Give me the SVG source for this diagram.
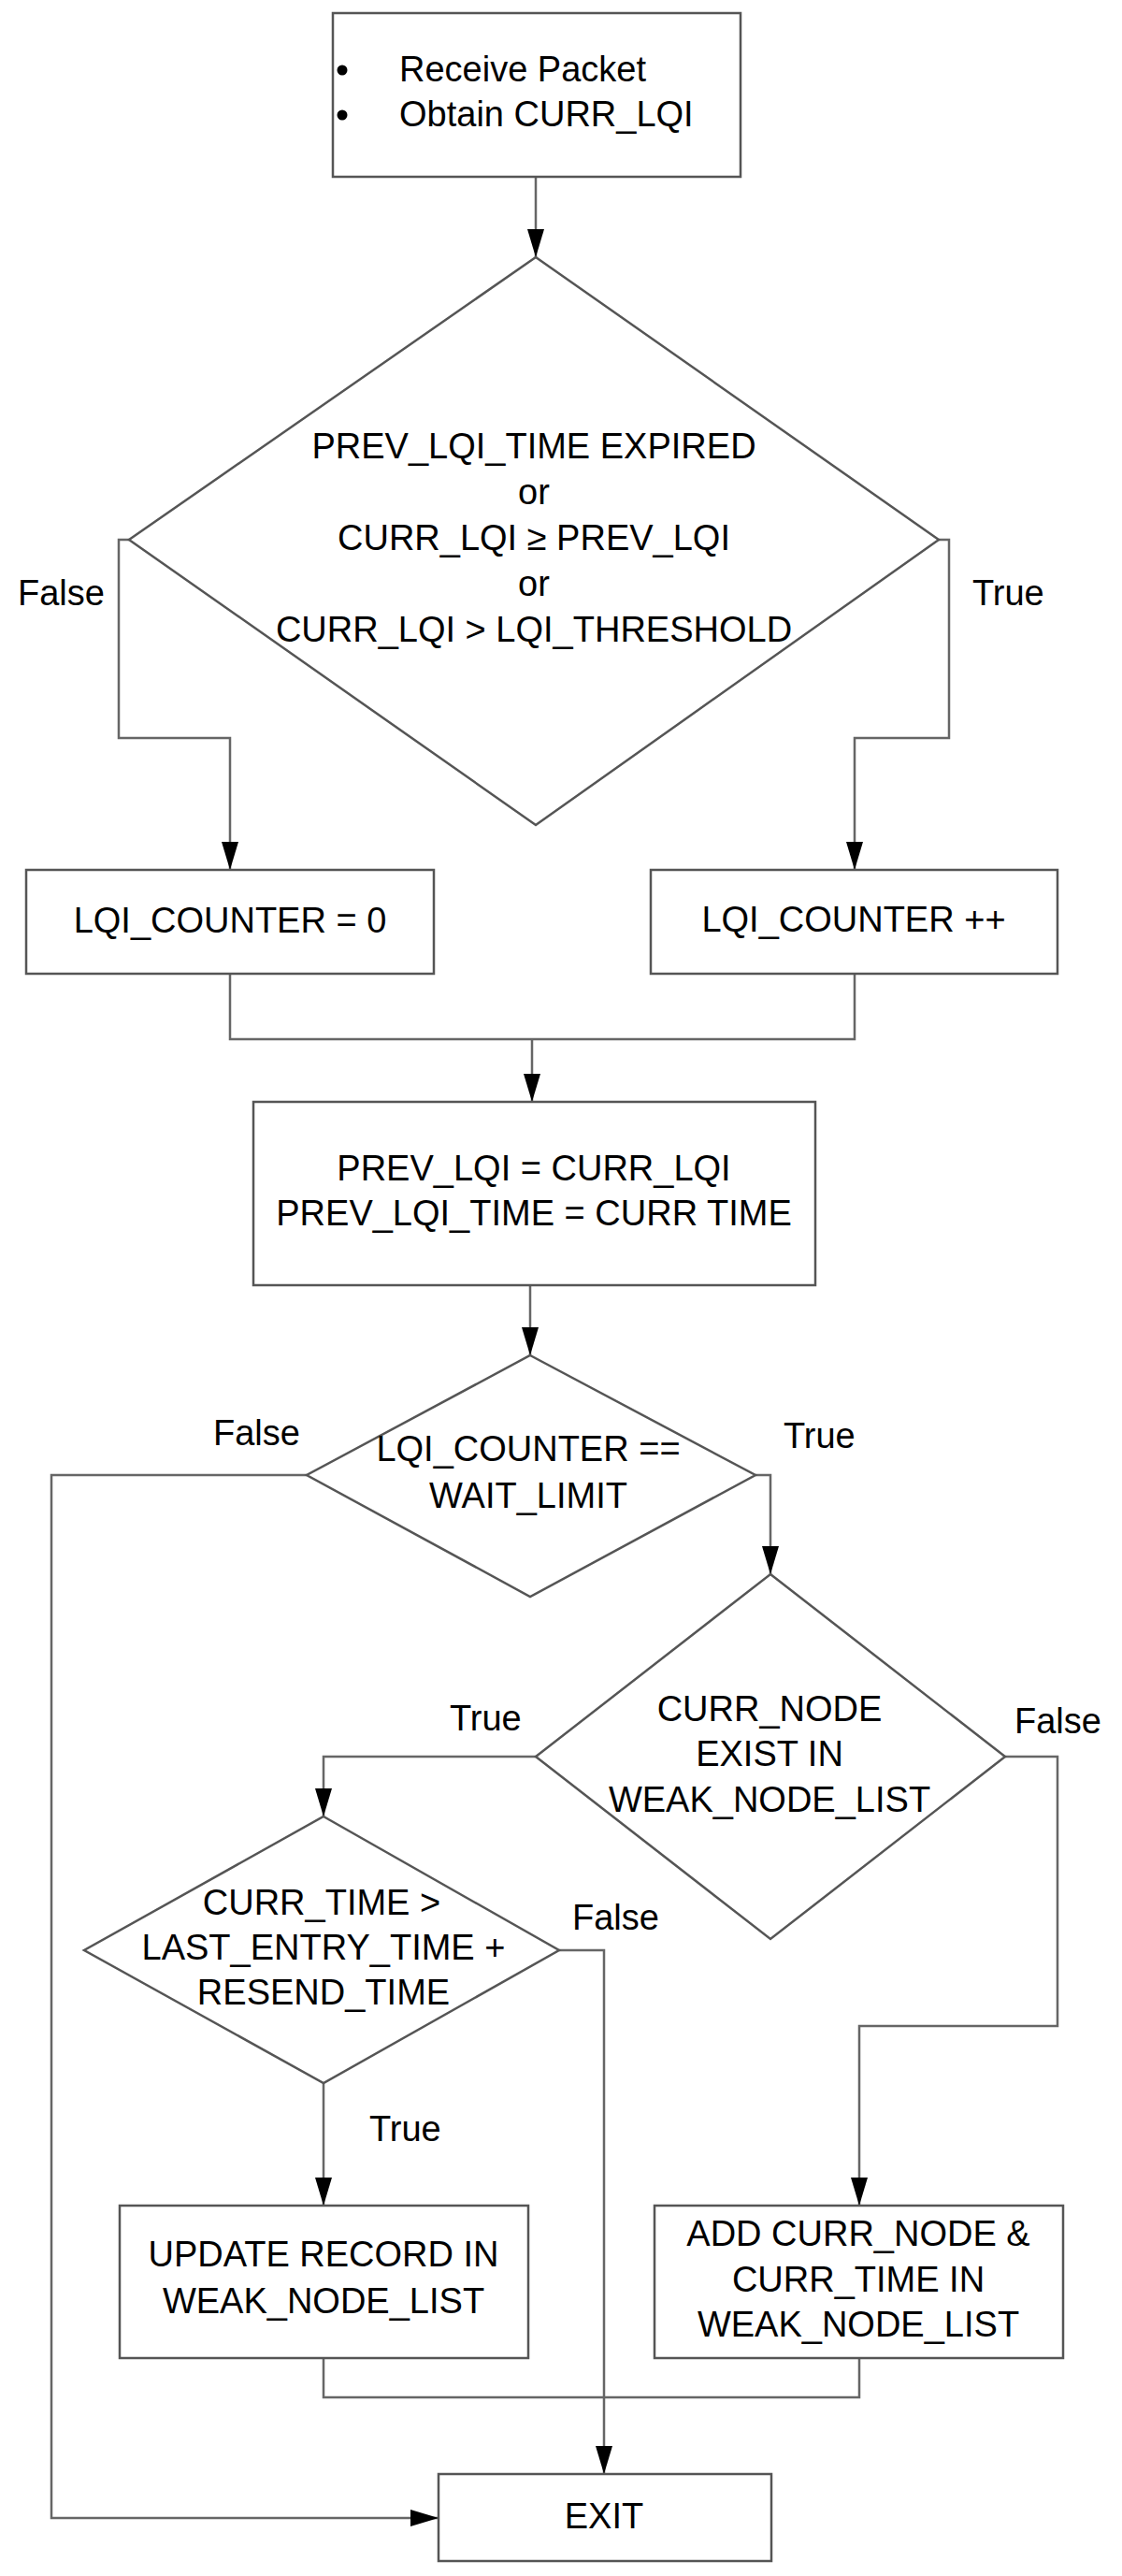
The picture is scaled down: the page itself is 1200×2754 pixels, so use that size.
<svg xmlns="http://www.w3.org/2000/svg" width="1200" height="2754" viewBox="0 0 1200 2754">
<style>
text{font-family:"Liberation Sans",Arial,sans-serif;font-size:38px;fill:#000}
.c{text-anchor:middle}
.box{fill:#fff;stroke:#555;stroke-width:2.5}
.dia{fill:#fff;stroke:#555;stroke-width:2.5}
.ln{fill:none;stroke:#666;stroke-width:2.5}
</style>
<defs>
<marker id="ah" markerUnits="userSpaceOnUse" markerWidth="30" markerHeight="18" refX="30" refY="9" orient="auto">
<path d="M0,0 L30,9 L0,18 z" fill="#000"/>
</marker>
</defs>
<rect width="1200" height="2754" fill="#fff"/>
<g id="connectors">
<polyline class="ln" points="573,189 573,275" marker-end="url(#ah)"/>
<polyline class="ln" points="138,577 127,577 127,789 246,789 246,930" marker-end="url(#ah)"/>
<polyline class="ln" points="1004,577 1015,577 1015,789 914,789 914,930" marker-end="url(#ah)"/>
<polyline class="ln" points="246,1041 246,1111 914,1111 914,1041"/>
<polyline class="ln" points="569,1111 569,1178" marker-end="url(#ah)"/>
<polyline class="ln" points="567,1374 567,1449" marker-end="url(#ah)"/>
<polyline class="ln" points="328,1577 55,1577 55,2692 469,2692" marker-end="url(#ah)"/>
<polyline class="ln" points="808,1577 824,1577 824,1683" marker-end="url(#ah)"/>
<polyline class="ln" points="573,1878 346,1878 346,1942" marker-end="url(#ah)"/>
<polyline class="ln" points="1075,1878 1131,1878 1131,2166 919,2166 919,2358" marker-end="url(#ah)"/>
<polyline class="ln" points="598,2085 646,2085 646,2645" marker-end="url(#ah)"/>
<polyline class="ln" points="346,2227 346,2358" marker-end="url(#ah)"/>
<polyline class="ln" points="346,2521 346,2563 919,2563 919,2521"/>
<text x="19" y="647">False</text>
<text x="1040" y="647">True</text>
<text x="228" y="1545">False</text>
<text x="838" y="1548">True</text>
<text x="481" y="1850">True</text>
<text x="1085" y="1853">False</text>
<text x="612" y="2063">False</text>
<text x="395" y="2289">True</text>
</g>
<g id="start">
<rect class="box" x="356" y="14" width="436" height="175"/>
<circle cx="366" cy="75" r="5.5" fill="#000"/>
<circle cx="366" cy="123" r="5.5" fill="#000"/>
<text x="427" y="87">Receive Packet</text>
<text x="427" y="135">Obtain CURR_LQI</text>
</g>
<g id="cond1">
<polygon class="dia" points="573,275 1004,577 573,882 138,577"/>
<text class="c" x="571" y="490">PREV_LQI_TIME EXPIRED</text>
<text class="c" x="571" y="539">or</text>
<text class="c" x="571" y="588">CURR_LQI ≥ PREV_LQI</text>
<text class="c" x="571" y="637">or</text>
<text class="c" x="571" y="686">CURR_LQI &gt; LQI_THRESHOLD</text>
</g>
<g id="reset">
<rect class="box" x="28" y="930" width="436" height="111"/>
<text class="c" x="246" y="997">LQI_COUNTER = 0</text>
</g>
<g id="incr">
<rect class="box" x="696" y="930" width="435" height="111"/>
<text class="c" x="913" y="996">LQI_COUNTER ++</text>
</g>
<g id="update">
<rect class="box" x="271" y="1178" width="601" height="196"/>
<text class="c" x="571" y="1262">PREV_LQI = CURR_LQI</text>
<text class="c" x="571" y="1310">PREV_LQI_TIME = CURR TIME</text>
</g>
<g id="cond2">
<polygon class="dia" points="567,1449 808,1577 567,1707 328,1577"/>
<text class="c" x="565" y="1562">LQI_COUNTER ==</text>
<text class="c" x="565" y="1612">WAIT_LIMIT</text>
</g>
<g id="cond3">
<polygon class="dia" points="824,1683 1075,1878 824,2073 573,1878"/>
<text class="c" x="823" y="1840">CURR_NODE</text>
<text class="c" x="823" y="1888">EXIST IN</text>
<text class="c" x="823" y="1937">WEAK_NODE_LIST</text>
</g>
<g id="cond4">
<polygon class="dia" points="346,1942 598,2085 346,2227 90,2085"/>
<text class="c" x="344" y="2047">CURR_TIME &gt;</text>
<text class="c" x="346" y="2095">LAST_ENTRY_TIME +</text>
<text class="c" x="346" y="2143">RESEND_TIME</text>
</g>
<g id="updrec">
<rect class="box" x="128" y="2358" width="437" height="163"/>
<text class="c" x="346" y="2423">UPDATE RECORD IN</text>
<text class="c" x="346" y="2473">WEAK_NODE_LIST</text>
</g>
<g id="addnode">
<rect class="box" x="700" y="2358" width="437" height="163"/>
<text class="c" x="918" y="2401">ADD CURR_NODE &amp;</text>
<text class="c" x="918" y="2450">CURR_TIME IN</text>
<text class="c" x="918" y="2498">WEAK_NODE_LIST</text>
</g>
<g id="exit">
<rect class="box" x="469" y="2645" width="356" height="93"/>
<text class="c" x="646" y="2703">EXIT</text>
</g>
</svg>
